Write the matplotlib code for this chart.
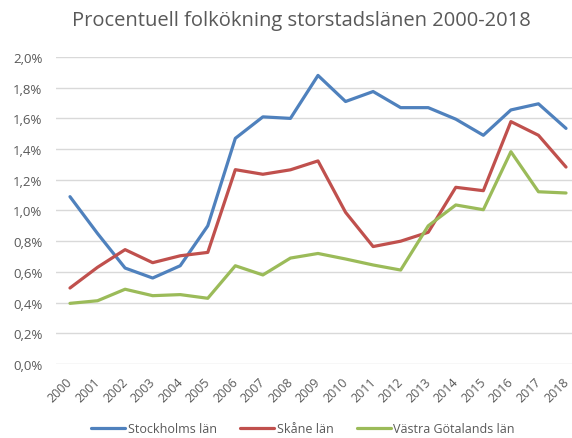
import matplotlib
matplotlib.use("Agg")
import matplotlib.pyplot as plt
import matplotlib.transforms as mtransforms
from matplotlib.ticker import FuncFormatter

years = [str(y) for y in range(2000, 2019)]
stockholm = [1.09, 0.85, 0.625, 0.56, 0.64, 0.90, 1.47, 1.61, 1.60, 1.88, 1.71, 1.775,
             1.67, 1.67, 1.595, 1.49, 1.655, 1.695, 1.535]
skane = [0.495, 0.63, 0.745, 0.66, 0.705, 0.727, 1.266, 1.236, 1.265, 1.323, 0.988, 0.765,
         0.80, 0.858, 1.151, 1.129, 1.579, 1.49, 1.283]
vastra = [0.395, 0.412, 0.487, 0.445, 0.452, 0.428, 0.64, 0.58, 0.69, 0.72, 0.684, 0.645,
          0.612, 0.90, 1.036, 1.005, 1.383, 1.122, 1.114]
labels = ['Stockholms län', 'Skåne län', 'Västra Götalands län']
colors = ['#4f81bd', '#c0504d', '#9bbb59']

plt.rcParams['font.family'] = ['Open Sans', 'DejaVu Sans']
grey = '#595959'

fig = plt.figure(figsize=(5.72, 4.39), dpi=100)
ax = fig.add_axes([56.2 / 572, 0.1686, 523.6 / 572, 0.6993])

x = range(len(years))
for series, lab, col in zip([stockholm, skane, vastra], labels, colors):
    ax.plot(x, [v / 100 for v in series], color=col, lw=2.3, label=lab,
            solid_capstyle='round', solid_joinstyle='round')

ax.set_xlim(-0.5, len(years) - 0.5)
ax.set_ylim(0, 0.02)
ax.set_yticks([i * 0.002 for i in range(11)])
ax.yaxis.set_major_formatter(FuncFormatter(lambda v, p: f"{v * 100:.1f}%".replace('.', ',')))
ax.set_xticks(list(x))
ax.set_xticklabels(years, rotation=45, ha='right', rotation_mode='anchor')
ax.tick_params(axis='both', colors=grey, labelsize=9.5, length=0)
ax.tick_params(axis='x', pad=8)
ax.tick_params(axis='y', pad=10)
shift = mtransforms.ScaledTranslation(-4 / 100, 0, fig.dpi_scale_trans)
for lbl in ax.get_xticklabels():
    lbl.set_fontsize(9)
    lbl.set_transform(lbl.get_transform() + shift)
ax.grid(axis='y', color='#d9d9d9', lw=1)
ax.set_axisbelow(True)
for s in ax.spines.values():
    s.set_visible(False)

fig.text(0.527, 0.953, 'Procentuell folkökning storstadslänen 2000-2018',
         ha='center', va='center', fontsize=14.5, color=grey)

fig.legend(loc='lower center', bbox_to_anchor=(0.53, 0.006), ncol=3, frameon=False,
           fontsize=9, labelcolor=grey, handlelength=2.7, columnspacing=1.9,
           handletextpad=0.2, borderpad=0, borderaxespad=0)

fig.savefig('out.png', dpi=100)
